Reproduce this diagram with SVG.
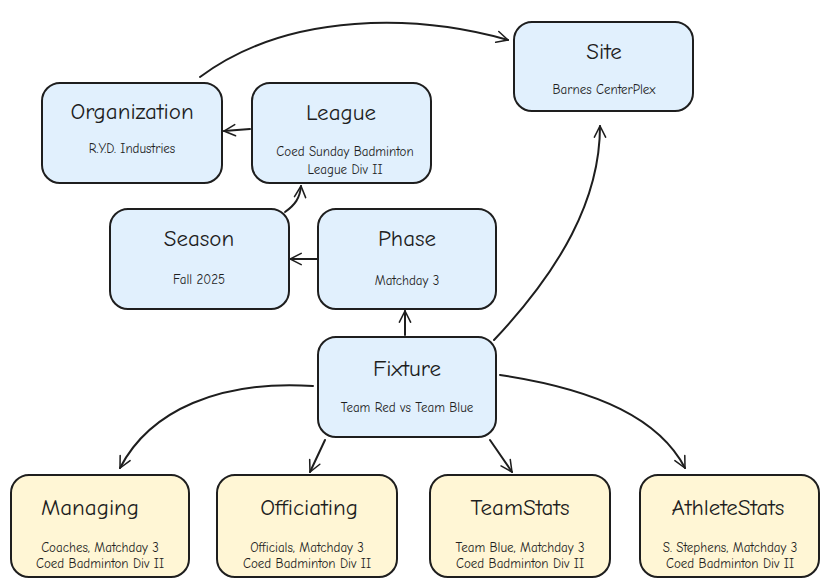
<svg xmlns="http://www.w3.org/2000/svg" width="830" height="587" viewBox="0 0 830 587">
<style>
.b{fill:#e1f0fd;stroke:#1e1e1e;stroke-width:2}
.y{fill:#fff6d5;stroke:#1e1e1e;stroke-width:2}
.t{font-family:"Comic Neue","Liberation Sans",sans-serif;font-size:23px;fill:#1e1e1e;text-anchor:middle}
.s{font-family:"Comic Neue","Liberation Sans",sans-serif;font-size:13px;fill:#1e1e1e;text-anchor:middle}
.c{fill:none;stroke:#1e1e1e;stroke-width:2;stroke-linecap:round;marker-end:url(#a)}
</style>
<defs><marker id="a" viewBox="0 0 20 20" refX="18" refY="10" markerWidth="14" markerHeight="14" markerUnits="userSpaceOnUse" orient="auto"><path d="M2,2 L18,10 L2,18" fill="none" stroke="#1e1e1e" stroke-width="2.2" stroke-linecap="round"/></marker></defs>
<g id="connectors">
<path class="c" d="M200,77 C290,10 420,15 508,40"/>
<path class="c" d="M250,129 L224,131"/>
<path class="c" d="M285,212 C295,205 300,198 301,186"/>
<path class="c" d="M318,259 L290,259"/>
<path class="c" d="M405,335 L405,311"/>
<path class="c" d="M494,340 C560,270 600,200 600,126"/>
<path class="c" d="M313,386 C220,380 150,410 120,468"/>
<path class="c" d="M325,440 L310,472"/>
<path class="c" d="M490,440 L512,472"/>
<path class="c" d="M500,375 C600,390 660,420 685,468"/>
</g>
<g id="site"><rect class="b" x="514" y="22" width="179" height="89" rx="18"/><text class="t" x="604" y="59">Site</text><text class="s" x="604" y="94">Barnes CenterPlex</text></g>
<g id="organization"><rect class="b" x="42" y="83" width="180" height="100" rx="18"/><text class="t" x="132" y="119">Organization</text><text class="s" x="132" y="153">R.Y.D. Industries</text></g>
<g id="league"><rect class="b" x="252" y="83" width="179" height="100" rx="18"/><text class="t" x="341" y="120">League</text><text class="s" x="345" y="156">Coed Sunday Badminton</text><text class="s" x="345" y="174">League Div II</text></g>
<g id="season"><rect class="b" x="110" y="209" width="179" height="100" rx="18"/><text class="t" x="199" y="246">Season</text><text class="s" x="199" y="284">Fall 2025</text></g>
<g id="phase"><rect class="b" x="318" y="209" width="178" height="100" rx="18"/><text class="t" x="407" y="246">Phase</text><text class="s" x="407" y="285">Matchday 3</text></g>
<g id="fixture"><rect class="b" x="318" y="337" width="178" height="100" rx="18"/><text class="t" x="407" y="376">Fixture</text><text class="s" x="407" y="412">Team Red vs Team Blue</text></g>
<g id="managing"><rect class="y" x="11" y="475" width="178" height="102" rx="18"/><text class="t" x="90" y="515">Managing</text><text class="s" x="100" y="552">Coaches, Matchday 3</text><text class="s" x="100" y="568">Coed Badminton Div II</text></g>
<g id="officiating"><rect class="y" x="217" y="475" width="180" height="102" rx="18"/><text class="t" x="309" y="515">Officiating</text><text class="s" x="307" y="552">Officials, Matchday 3</text><text class="s" x="307" y="568">Coed Badminton Div II</text></g>
<g id="teamstats"><rect class="y" x="430" y="475" width="180" height="102" rx="18"/><text class="t" x="520" y="515">TeamStats</text><text class="s" x="520" y="552">Team Blue, Matchday 3</text><text class="s" x="520" y="568">Coed Badminton Div II</text></g>
<g id="athletestats"><rect class="y" x="640" y="475" width="179" height="102" rx="18"/><text class="t" x="728" y="515">AthleteStats</text><text class="s" x="730" y="552">S. Stephens, Matchday 3</text><text class="s" x="730" y="568">Coed Badminton Div II</text></g>
</svg>
